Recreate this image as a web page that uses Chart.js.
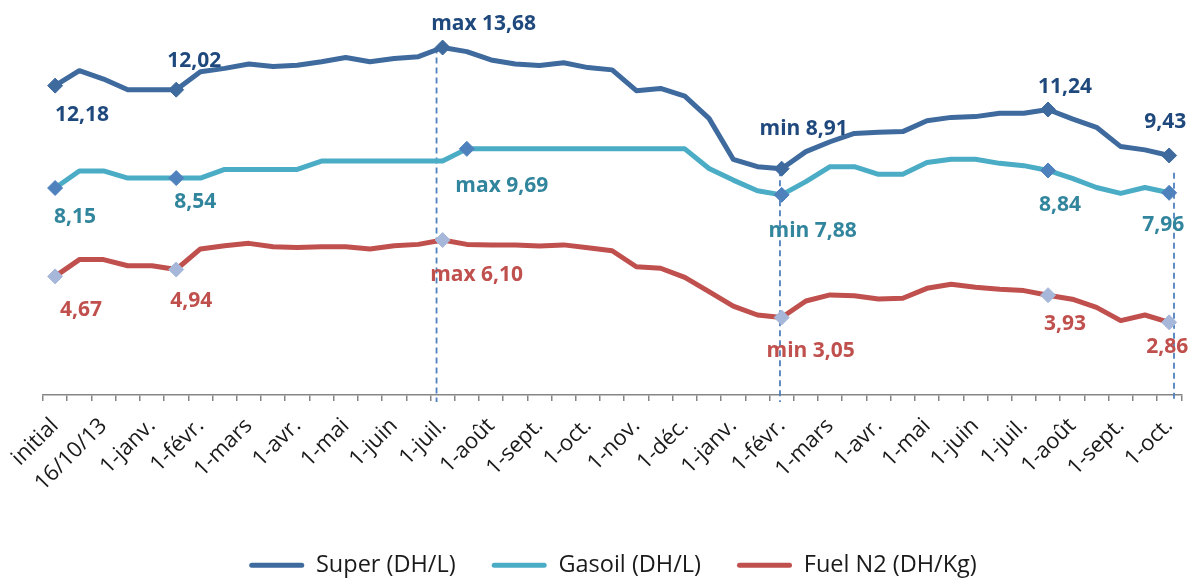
<!DOCTYPE html>
<html><head><meta charset="utf-8">
<script src="https://cdn.jsdelivr.net/npm/chart.js@4/dist/chart.umd.min.js"></script>
<style>html,body{margin:0;padding:0;background:#fff}#wrap{width:1200px;height:581px;position:relative}</style>
</head><body><div id="wrap"><canvas id="c" width="1200" height="581"></canvas></div>
<script>
// ---- data ----
const tickLabels = ['initial','16/10/13','1-janv.','1-févr.','1-mars','1-avr.','1-mai','1-juin','1-juil.','1-août','1-sept.','1-oct.','1-nov.','1-déc.','1-janv.','1-févr.','1-mars','1-avr.','1-mai','1-juin','1-juil.','1-août','1-sept.','1-oct.'];
const superValues = [12.18,12.77,12.44,12.02,12.02,12.02,12.73,12.86,13.03,12.93,12.98,13.12,13.29,13.12,13.25,13.32,13.68,13.52,13.19,13.03,12.97,13.08,12.89,12.80,11.98,12.07,11.77,10.89,9.28,8.99,8.91,9.58,9.97,10.30,10.34,10.37,10.80,10.93,10.96,11.09,11.09,11.24,10.87,10.54,9.78,9.65,9.43];
const gasoilValues = [8.15,8.82,8.82,8.54,8.54,8.54,8.54,8.88,8.88,8.88,8.88,9.21,9.21,9.21,9.21,9.21,9.21,9.69,9.69,9.69,9.69,9.69,9.69,9.69,9.69,9.69,9.69,8.92,8.46,8.04,7.88,8.40,8.99,8.99,8.69,8.69,9.15,9.28,9.28,9.12,9.03,8.84,8.53,8.17,7.94,8.17,7.96];
const fuelValues = [4.67,5.33,5.33,5.09,5.09,4.94,5.75,5.88,5.97,5.84,5.81,5.84,5.84,5.75,5.88,5.93,6.10,5.93,5.91,5.91,5.87,5.91,5.80,5.68,5.05,4.99,4.63,4.07,3.50,3.15,3.05,3.70,3.94,3.91,3.78,3.81,4.20,4.36,4.24,4.16,4.11,3.93,3.77,3.45,2.93,3.15,2.86];
const seriesNames = ['Super (DH/L)','Gasoil (DH/L)','Fuel N2 (DH/Kg)'];
const superMarks = [0,5,16,30,41,46];
const gasoilMarks = [0,5,17,30,41,46];
const fuelMarks = [0,5,16,30,41,46];
const superPrefix = ['','','max ','min ','',''];
const gasoilPrefix = ['','','max ','min ','',''];
const fuelPrefix = ['','','max ','min ','',''];
// reference drop lines: category position, top value
const dropAt = [15.75, 29.93, 46.2];
const dropTop = [13.68, 8.85, 8.75];

// ---- build categories: every other category labelled ----
const categories = [];
tickLabels.forEach((t,i)=>{ if(i>0) categories.push(''); categories.push(t); });

// ---- styles ----
const colors = {super:'#3E6A9E', gasoil:'#4BACC6', fuel:'#C0504D'};
const markerColors = ['#3E6A9E','#4F81BD','#A6B7D9'];
const noteColors = ['#1F497D','#31859C','#C0504D'];
const noteOffsets = [
  [[27,28],[18,-30],[41,-25],[22,-41],[17,-24],[-4,-35]],
  [[20,28],[19,22],[35,36],[31,35],[12,33],[-6,31]],
  [[26,32],[15,30],[34,33],[29,32],[17,27],[-2,23]]
];
const marks = [superMarks, gasoilMarks, fuelMarks];
const prefixes = [superPrefix, gasoilPrefix, fuelPrefix];

Chart.defaults.font.family = "'Open Sans', 'Noto Sans', sans-serif";

function mkDataset(label, data, color, mk, mcol){
  return {
    label, data, borderColor: color, backgroundColor: color, borderWidth: 5,
    borderJoinStyle:'round', borderCapStyle:'round', tension:0,
    pointStyle:'rectRot',
    pointRadius: c => mk.includes(c.dataIndex) ? 7.5 : 0,
    pointBackgroundColor: mcol, pointBorderColor: mcol, pointBorderWidth: 1,
    pointHoverRadius: 0
  };
}

const dropLinePlugin = {
  id:'dropLines',
  beforeDatasetsDraw(chart){
    const {ctx, scales:{x, y}} = chart;
    ctx.save();
    ctx.strokeStyle = '#4F81BD'; ctx.lineWidth = 1.8; ctx.setLineDash([6,4]);
    dropAt.forEach((p,i)=>{
      const px = x.getPixelForValue(p);
      ctx.beginPath();
      ctx.moveTo(px, y.getPixelForValue(dropTop[i]));
      ctx.lineTo(px, y.getPixelForValue(0) + 7);
      ctx.stroke();
    });
    ctx.restore();
  }
};

const notePlugin = {
  id:'notes',
  afterDatasetsDraw(chart){
    const {ctx, scales:{x, y}} = chart;
    ctx.save();
    ctx.font = "bold 21px 'Open Sans', 'Noto Sans', sans-serif";
    ctx.textAlign = 'center'; ctx.textBaseline = 'alphabetic';
    chart.data.datasets.forEach((ds, di)=>{
      ctx.fillStyle = noteColors[di];
      marks[di].forEach((idx, k)=>{
        const v = ds.data[idx];
        const txt = prefixes[di][k] + v.toFixed(2).replace('.', ',');
        const px = x.getPixelForValue(idx) + noteOffsets[di][k][0];
        const py = y.getPixelForValue(v) + noteOffsets[di][k][1] + 7.5;
        ctx.fillText(txt, px, py);
      });
    });
    ctx.restore();
  }
};

new Chart(document.getElementById('c').getContext('2d'), {
  type:'line',
  data:{
    labels: categories,
    datasets:[
      mkDataset(seriesNames[0], superValues, colors.super, superMarks, markerColors[0]),
      mkDataset(seriesNames[1], gasoilValues, colors.gasoil, gasoilMarks, markerColors[1]),
      mkDataset(seriesNames[2], fuelValues, colors.fuel, fuelMarks, markerColors[2])
    ]
  },
  options:{
    responsive:false, animation:false, devicePixelRatio:1,
    layout:{padding:{left:43, right:17, top:14, bottom:-6}},
    scales:{
      x:{
        offset:true,
        grid:{offset:true, drawOnChartArea:false, drawTicks:true, tickLength:6, color:'#868686', lineWidth:1.5},
        border:{display:true, color:'#868686', width:1.5},
        ticks:{autoSkip:false, maxRotation:45, minRotation:45, color:'#1a1a1a', font:{size:22}, padding:12},
        afterFit: s => { s.height = 122.5; }
      },
      y:{display:false, min:0, max:15}
    },
    plugins:{
      tooltip:{enabled:false},
      legend:{
        position:'bottom',
        labels:{
          boxWidth:55, boxHeight:5, padding:36, color:'#1a1a1a', font:{size:23.5},
          useBorderRadius:true, borderRadius:2.5,
          generateLabels: ch => ch.data.datasets.map((d,i)=>({
            text:d.label, fillStyle:d.borderColor, strokeStyle:d.borderColor, lineWidth:0,
            hidden:false, datasetIndex:i, fontColor:'#1a1a1a', borderRadius:2.5
          }))
        }
      }
    }
  },
  plugins:[dropLinePlugin, notePlugin]
});
</script></body></html>
